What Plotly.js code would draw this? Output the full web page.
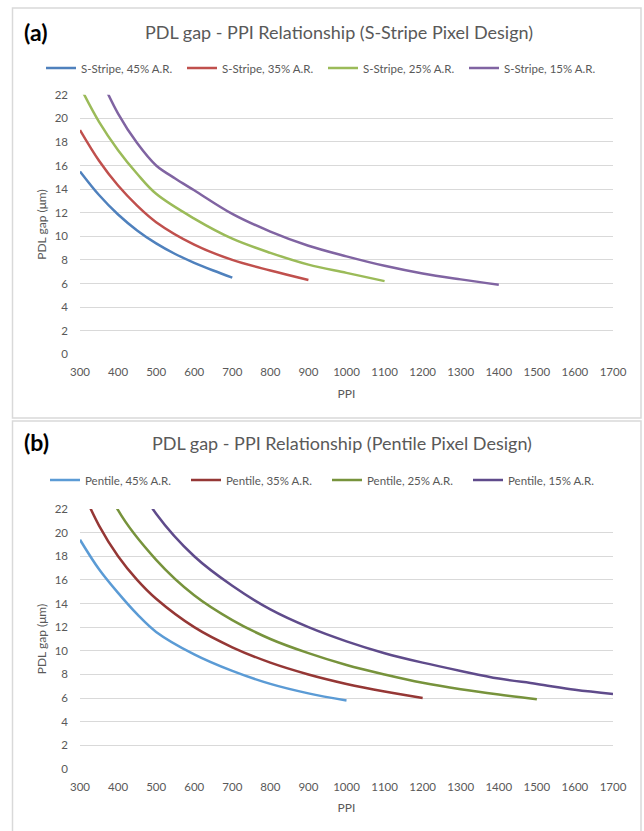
<!DOCTYPE html>
<html>
<head>
<meta charset="utf-8">
<script src="https://cdn.plot.ly/plotly-3.0.1.min.js"></script>
<style>html,body{margin:0;padding:0;background:#fff;}#chart{width:644px;height:831px;}</style>
</head>
<body>
<div id="chart"></div>
<script>
// ---- Data: panel (a) S-Stripe ----
const ppiS45 = [300, 350, 400, 450, 500, 550, 600, 650, 700];
const gapS45 = [15.5, 13.5, 11.85, 10.5, 9.4, 8.5, 7.75, 7.1, 6.5];
const ppiS35 = [300, 350, 400, 450, 500, 600, 700, 800, 900];
const gapS35 = [19.0, 16.4, 14.3, 12.6, 11.2, 9.3, 8.0, 7.1, 6.3];
const ppiS25 = [300, 350, 400, 450, 500, 600, 700, 800, 900, 1000, 1100];
const gapS25 = [22.7, 19.7, 17.3, 15.3, 13.6, 11.5, 9.8, 8.6, 7.6, 6.9, 6.2];
const ppiS15 = [350, 400, 450, 500, 550, 600, 700, 800, 900, 1000, 1100, 1200, 1300, 1400];
const gapS15 = [23.7, 20.4, 17.9, 16.0, 14.9, 13.9, 11.9, 10.4, 9.2, 8.3, 7.5, 6.85, 6.35, 5.9];

// ---- Data: panel (b) Pentile ----
const ppiP45 = [300, 350, 400, 450, 500, 600, 700, 800, 900, 1000];
const gapP45 = [19.4, 16.9, 14.9, 13.1, 11.6, 9.7, 8.3, 7.2, 6.4, 5.8];
const ppiP35 = [300, 350, 400, 450, 500, 600, 700, 800, 900, 1000, 1100, 1200];
const gapP35 = [24.0, 20.6, 18.0, 16.0, 14.4, 12.0, 10.3, 9.0, 8.0, 7.2, 6.55, 6.0];
const ppiP25 = [300, 400, 500, 600, 700, 800, 900, 1000, 1100, 1200, 1300, 1400, 1500];
const gapP25 = [29.5, 21.9, 17.7, 14.7, 12.6, 11.0, 9.8, 8.8, 8.0, 7.3, 6.75, 6.3, 5.9];
const ppiP15 = [400, 500, 600, 700, 800, 900, 1000, 1100, 1200, 1300, 1400, 1500, 1600, 1700];
const gapP15 = [27.0, 21.6, 18.0, 15.5, 13.5, 12.0, 10.8, 9.8, 9.0, 8.3, 7.65, 7.2, 6.7, 6.35];

const namesS = ['S-Stripe, 45% A.R.', 'S-Stripe, 35% A.R.', 'S-Stripe, 25% A.R.', 'S-Stripe, 15% A.R.'];
const namesP = ['Pentile, 45% A.R.', 'Pentile, 35% A.R.', 'Pentile, 25% A.R.', 'Pentile, 15% A.R.'];
const titleA = 'PDL gap - PPI Relationship (S-Stripe Pixel Design)';
const titleB = 'PDL gap - PPI Relationship (Pentile Pixel Design)';
const xTicks = [300, 400, 500, 600, 700, 800, 900, 1000, 1100, 1200, 1300, 1400, 1500, 1600, 1700];
const yTicks = [0, 2, 4, 6, 8, 10, 12, 14, 16, 18, 20, 22];

const colorsS = ['#4f81bd', '#c0504d', '#9bbb59', '#8064a2'];
const colorsP = ['#5b9bd5', '#953735', '#77933c', '#5f4b8b'];

const FONT = 'Lato, "Open Sans", sans-serif';
const W = 644, H = 831;
const px = v => v / W;
const py = v => 1 - v / H;

function mk(x, y, name, color, xa, ya, leg) {
  return {
    type: 'scatter', mode: 'lines', x: x, y: y, name: name,
    xaxis: xa, yaxis: ya, legend: leg,
    line: {color: color, width: 2.5, shape: 'spline', smoothing: 1},
    hoverinfo: 'skip'
  };
}

const traces = [
  mk(ppiS45, gapS45, namesS[0], colorsS[0], 'x', 'y', 'legend'),
  mk(ppiS35, gapS35, namesS[1], colorsS[1], 'x', 'y', 'legend'),
  mk(ppiS25, gapS25, namesS[2], colorsS[2], 'x', 'y', 'legend'),
  mk(ppiS15, gapS15, namesS[3], colorsS[3], 'x', 'y', 'legend'),
  mk(ppiP45, gapP45, namesP[0], colorsP[0], 'x2', 'y2', 'legend2'),
  mk(ppiP35, gapP35, namesP[1], colorsP[1], 'x2', 'y2', 'legend2'),
  mk(ppiP25, gapP25, namesP[2], colorsP[2], 'x2', 'y2', 'legend2'),
  mk(ppiP15, gapP15, namesP[3], colorsP[3], 'x2', 'y2', 'legend2')
];

const tickFont = {family: FONT, size: 11.5, color: '#595959'};
const titleFont = {family: FONT, size: 12, color: '#595959'};

function xAxis(anchor) {
  return {
    anchor: anchor, domain: [px(80), px(613)], range: [300, 1700],
    tickmode: 'array', tickvals: xTicks, ticktext: xTicks.map(String),
    showgrid: false, zeroline: false, showline: false, ticks: '',
    tickfont: tickFont, ticklabelstandoff: 9, fixedrange: true,
    title: {text: 'PPI', font: titleFont, standoff: 12}
  };
}
function yAxis(anchor, dom) {
  return {
    anchor: anchor, domain: dom, range: [0, 22],
    tickmode: 'array', tickvals: yTicks, ticktext: yTicks.map(String),
    showgrid: true, gridcolor: '#d9d9d9', gridwidth: 1,
    zeroline: false, showline: false, ticks: '',
    tickfont: tickFont, ticklabelstandoff: 11, fixedrange: true,
    title: {text: 'PDL gap (μm)', font: titleFont, standoff: 5}
  };
}

const legendBase = {
  orientation: 'h', xanchor: 'left', yanchor: 'middle',
  font: {family: FONT, size: 11.5, color: '#595959'},
  bgcolor: 'rgba(0,0,0,0)', borderwidth: 0,
  itemwidth: 30, entrywidth: 96, entrywidthmode: 'pixels',
  itemclick: false, itemdoubleclick: false, tracegroupgap: 0
};

const layout = {
  width: W, height: H,
  margin: {l: 0, r: 0, t: 0, b: 0},
  paper_bgcolor: '#ffffff', plot_bgcolor: '#ffffff',
  showlegend: true,
  xaxis: xAxis('y'),
  yaxis: yAxis('x', [py(354.3), py(94.7)]),
  xaxis2: xAxis('y2'),
  yaxis2: yAxis('x2', [py(769), py(509)]),
  legend: Object.assign({}, legendBase, {x: px(41), y: py(68)}),
  legend2: Object.assign({}, legendBase, {x: px(45), y: py(480)}),
  shapes: [
    {type: 'rect', xref: 'paper', yref: 'paper', x0: px(12.5), x1: px(641), y0: py(418), y1: py(8),
     line: {color: '#d9d9d9', width: 1.5}, fillcolor: 'rgba(0,0,0,0)', layer: 'below'},
    {type: 'rect', xref: 'paper', yref: 'paper', x0: px(12.5), x1: px(641), y0: py(840), y1: py(421),
     line: {color: '#d9d9d9', width: 1.5}, fillcolor: 'rgba(0,0,0,0)', layer: 'below'}
  ],
  annotations: [
    {xref: 'paper', yref: 'paper', x: px(22), y: py(32), xanchor: 'left', yanchor: 'middle', showarrow: false,
     text: '<b>(a)</b>', font: {family: FONT, size: 23, color: '#000000'}},
    {xref: 'paper', yref: 'paper', x: px(339), y: py(32), xanchor: 'center', yanchor: 'middle', showarrow: false,
     text: titleA, font: {family: FONT, size: 18, color: '#595959'}},
    {xref: 'paper', yref: 'paper', x: px(22), y: py(442), xanchor: 'left', yanchor: 'middle', showarrow: false,
     text: '<b>(b)</b>', font: {family: FONT, size: 23, color: '#000000'}},
    {xref: 'paper', yref: 'paper', x: px(342), y: py(443), xanchor: 'center', yanchor: 'middle', showarrow: false,
     text: titleB, font: {family: FONT, size: 18, color: '#595959'}}
  ]
};

Plotly.newPlot('chart', traces, layout, {staticPlot: true, displayModeBar: false});
</script>
</body>
</html>
